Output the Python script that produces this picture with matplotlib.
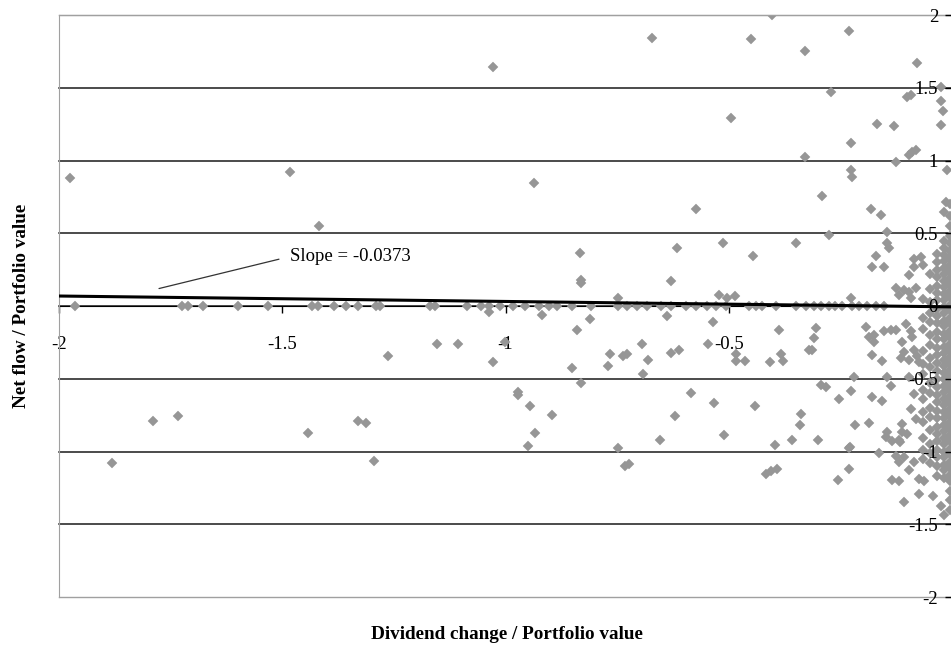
import matplotlib.pyplot as plt
import numpy as np

plt.rcParams['font.family'] = ['Liberation Serif', 'DejaVu Serif']

# points lying on the zero line (net flow = 0)
zero_x = [-1.964, -1.725, -1.711, -1.678, -1.600, -1.532, -1.434, -1.421,
          -1.385, -1.358, -1.331, -1.291, -1.282, -1.170, -1.159, -1.087,
          -1.054, -1.036, -1.013, -0.984, -0.957, -0.924, -0.902, -0.884,
          -0.850, -0.808, -0.749, -0.727, -0.705, -0.682, -0.651, -0.629,
          -0.595, -0.573, -0.548, -0.528, -0.506, -0.454, -0.440, -0.425,
          -0.394, -0.349, -0.327, -0.309, -0.293, -0.275, -0.262, -0.246,
          -0.224, -0.208, -0.190, -0.170, -0.152]

# scattered observations
div_x = [-1.975, -1.483, -1.418, -1.027, -0.937, -0.671, -0.450, -0.403,
         -0.329, -0.230, -0.078, -0.271, -0.101, -0.092, -0.025, -0.025,
         -0.020, -0.025, -0.494, -0.168, -0.130, -0.226, -0.329, -0.125,
         -0.096, -0.089, -0.081, -0.011, -0.226, -0.224, -0.291, -0.573,
         -0.181, -0.159, -0.013, -0.018, -0.145, -0.275, -0.615, -0.512,
         -0.349, -0.445, -0.145, -0.141, -0.629, -0.834, -0.832, -0.830,
         -0.521, -0.503, -0.485, -0.749, -0.170, -0.179, -0.152, -0.226,
         -0.096, -0.085, -0.069, -0.085, -0.125, -0.107, -0.119, -0.096,
         -0.081, -0.092,
         -1.036, -0.919, -0.810, -0.638, -0.535, -0.839, -0.387, -1.154,
         -1.107, -1.002, -0.694, -0.546, -0.320, -1.029, -0.765, -0.736,
         -0.727, -0.680, -0.629, -0.611, -0.483, -0.483, -0.463, -0.407,
         -0.383, -0.378, -0.852, -0.770, -0.691, -0.830, -0.971, -0.971,
         -0.584, -1.790, -1.734, -1.881, -1.443, -1.264, -1.331, -1.313,
         -1.295, -0.946, -0.895, -0.935, -0.949, -0.747, -0.732, -0.723,
         -0.304, -0.309, -0.313, -0.533, -0.620, -0.653, -0.510, -0.441,
         -0.338, -0.340, -0.358, -0.300, -0.396, -0.416, -0.405, -0.392,
         -0.293, -0.282, -0.253, -0.226, -0.219, -0.230, -0.230, -0.255,
         -0.217, -0.186, -0.163, -0.192, -0.175, -0.175, -0.179, -0.157,
         -0.145, -0.137, -0.179, -0.157, -0.148, -0.134, -0.116, -0.112,
         -0.101, -0.134, -0.119, -0.107, -0.074, -0.063, -0.074, -0.043,
         -0.025, -0.018, -0.228, -0.125, -0.119, -0.107, -0.125, -0.103,
         -0.092, -0.112, -0.089, -0.107, -0.085, -0.114, -0.096, -0.186,
         -0.152, -0.137, -0.078, -0.145, -0.119, -0.112, -0.074, -0.096,
         -0.085, -0.092, -0.081, -0.096, -0.085]
flow_y = [0.883, 0.924, 0.553, 1.646, 0.842, 1.845, 1.832, 2.000,
          1.756, 1.887, 1.667, 1.474, 1.433, 1.447, 1.502, 1.412,
          1.337, 1.241, 1.289, 1.254, 1.234, 1.117, 1.027, 0.993,
          1.041, 1.055, 1.069, 0.938, 0.938, 0.890, 0.753, 0.670,
          0.670, 0.622, 0.718, 0.643, 0.512, 0.485, 0.402, 0.430,
          0.430, 0.347, 0.436, 0.402, 0.175, 0.361, 0.182, 0.155,
          0.079, 0.052, 0.072, 0.058, 0.347, 0.271, 0.271, 0.058,
          0.216, 0.320, 0.340, 0.271, 0.127, 0.113, 0.079, 0.093,
          0.127, 0.058,
          -0.038, -0.065, -0.086, -0.072, -0.113, -0.162, -0.162, -0.258,
          -0.258, -0.244, -0.258, -0.258, -0.299, -0.388, -0.333, -0.347,
          -0.333, -0.368, -0.320, -0.299, -0.333, -0.375, -0.381, -0.388,
          -0.333, -0.381, -0.423, -0.409, -0.464, -0.526, -0.588, -0.615,
          -0.601, -0.787, -0.759, -1.082, -0.876, -0.347, -0.787, -0.801,
          -1.062, -0.684, -0.752, -0.876, -0.959, -0.973, -1.103, -1.089,
          -0.148, -0.223, -0.299, -0.670, -0.759, -0.924, -0.890, -0.684,
          -0.739, -0.821, -0.918, -0.918, -0.952, -1.158, -1.137, -1.117,
          -0.546, -0.560, -0.636, -0.581, -0.491, -0.973, -1.117, -1.199,
          -0.821, -0.801, -1.007, -0.141, -0.196, -0.244, -0.340, -0.381,
          -0.491, -0.553, -0.622, -0.656, -0.897, -0.931, -0.938, -0.863,
          -0.883, -1.196, -1.203, -1.344, -1.192, -1.206, -1.289, -1.309,
          -1.378, -1.433, -0.966, -1.034, -1.069, -1.041, -0.162, -0.127,
          -0.175, -0.244, -0.216, -0.313, -0.299, -0.354, -0.368, -0.210,
          -0.175, -0.162, -0.347, -0.869, -0.918, -0.814, -0.388, -0.485,
          -0.608, -0.711, -0.780, -1.124, -1.069]

# dense strip of observations right next to zero dividend change
strip_x = [-0.004, -0.019, -0.034, -0.050, -0.066]
strip_y = [
    [0.70, 0.62, 0.55, 0.48, 0.43, 0.38, 0.33, 0.28, 0.24, 0.19, 0.15, 0.10,
     0.06, 0.01, -0.03, -0.08, -0.12, -0.17, -0.21, -0.26, -0.30, -0.35,
     -0.39, -0.44, -0.48, -0.53, -0.57, -0.62, -0.66, -0.71, -0.75, -0.80,
     -0.84, -0.89, -0.93, -0.98, -1.02, -1.07, -1.11, -1.16, -1.20, -1.27,
     -1.33, -1.40],
    [0.45, 0.40, 0.35, 0.31, 0.26, 0.22, 0.17, 0.13, 0.08, 0.04, -0.01,
     -0.05, -0.10, -0.14, -0.19, -0.23, -0.28, -0.32, -0.37, -0.41, -0.46,
     -0.50, -0.55, -0.59, -0.64, -0.68, -0.73, -0.77, -0.82, -0.86, -0.91,
     -0.95, -1.00, -1.04, -1.09, -1.13, -1.18],
    [0.36, 0.30, 0.25, 0.20, 0.14, 0.09, 0.04, -0.02, -0.07, -0.12, -0.18,
     -0.23, -0.29, -0.34, -0.39, -0.45, -0.50, -0.56, -0.61, -0.66, -0.72,
     -0.77, -0.83, -0.88, -0.93, -0.99, -1.04, -1.10, -1.17],
    [0.22, 0.12, 0.03, -0.05, -0.11, -0.20, -0.27, -0.36, -0.42, -0.53,
     -0.60, -0.70, -0.76, -0.85, -0.95, -1.01, -1.08],
    [0.28, 0.05, -0.08, -0.16, -0.31, -0.40, -0.47, -0.58, -0.64, -0.73,
     -0.80, -0.91, -0.99, -1.05],
]

# regression line
slope = -0.0373
intercept = -0.006

x_ticks = [-2, -1.5, -1, -0.5, 0]
x_labels = ['-2', '-1.5', '-1', '-0.5', '']
y_ticks = [-2, -1.5, -1, -0.5, 0, 0.5, 1, 1.5, 2]
y_labels = ['-2', '-1.5', '-1', '-0.5', '0', '0.5', '1', '1.5', '2']

fig = plt.figure(figsize=(9.51, 6.46), dpi=100)
ax = fig.add_axes([59 / 951, 49 / 646, 893 / 951, 582 / 646])

# horizontal gridlines under the markers (outer ones are the grey frame)
for yt in y_ticks:
    outer = abs(yt) == 2
    ax.axhline(yt, color='#a0a0a0' if outer else '#1a1a1a',
               lw=1.0 if outer else 1.1, zorder=0.5, clip_on=False)

grey = '#969696'
mk = dict(marker='D', ms=5.3, color=grey, mec=grey, mew=0.3, ls='none',
          zorder=2)

ax.plot(zero_x, np.zeros(len(zero_x)), **mk)
ax.plot(div_x, flow_y, **mk)
for cx, cys in zip(strip_x, strip_y):
    ax.plot(np.full(len(cys), cx), cys, **mk)

# trend line
xs = np.array([-2.0, 0.0])
ax.plot(xs, intercept + slope * xs, color='black', lw=2.2, zorder=4,
        solid_capstyle='butt')

ax.annotate('Slope = -0.0373', xy=(-1.776, 0.12), xytext=(-1.483, 0.34),
            fontsize=13.5, ha='left', va='center',
            arrowprops=dict(arrowstyle='-', color='#333333', lw=0.9,
                            shrinkA=6, shrinkB=0, relpos=(0, 0.5)))

ax.set_xlim(-2, 0)
ax.set_ylim(-2, 2)

# spines: grey plot-area border, x axis through zero, y axis at x = 0
ax.spines['left'].set_color('#a0a0a0')
ax.spines['top'].set_color('#a0a0a0')
ax.spines['bottom'].set_position(('data', 0))
ax.spines['bottom'].set_color('black')
ax.spines['bottom'].set_zorder(1)
ax.spines['right'].set_color('black')

ax.set_xticks(x_ticks, x_labels)
ax.tick_params(axis='x', direction='out', length=5, width=1, pad=16.5,
               labelsize=13.5)

ax.yaxis.tick_right()
ax.set_yticks(y_ticks, y_labels)
ax.tick_params(axis='y', direction='in', length=5, width=1, pad=-10,
               labelsize=13.5)
for lab in ax.get_yticklabels():
    lab.set_horizontalalignment('right')
ax.yaxis.set_zorder(5)

ax.set_xlabel('Dividend change / Portfolio value', fontsize=13.8,
              fontweight='bold')
ax.xaxis.set_label_coords(0.502, -0.05)
ax.set_ylabel('Net flow / Portfolio value', fontsize=13.8, fontweight='bold')
ax.yaxis.set_label_position('left')
ax.yaxis.set_label_coords(-0.032, 0.5)

plt.savefig('out.png', dpi=100)
